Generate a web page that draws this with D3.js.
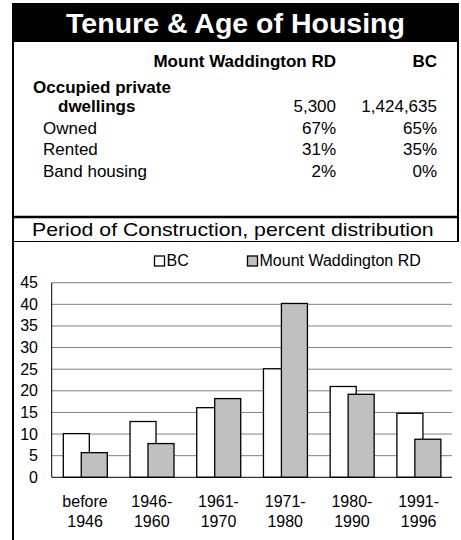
<!DOCTYPE html>
<html>
<head>
<meta charset="utf-8">
<script src="https://cdn.jsdelivr.net/npm/d3@7"></script>
<style>
  body { margin: 0; background: #fff; }
  svg { display: block; font-family: "Liberation Sans", Arial, sans-serif; }
</style>
</head>
<body>
<svg id="chart" width="461" height="540"></svg>
<script>
// data
const title = "Tenure & Age of Housing";
const areaNames = ["Mount Waddington RD", "BC"];
const tenureLabels = [["Occupied private", "dwellings"], ["Owned"], ["Rented"], ["Band housing"]];
const mwTenure = ["5,300", "67%", "31%", "2%"];
const bcTenure = ["1,424,635", "65%", "35%", "0%"];

const chartTitle = "Period of Construction, percent distribution";
const periods = [["before", "1946"], ["1946-", "1960"], ["1961-", "1970"], ["1971-", "1980"], ["1980-", "1990"], ["1991-", "1996"]];
const seriesNames = ["BC", "Mount Waddington RD"];
const bcValues = [10.1, 12.9, 16.1, 25.1, 21.0, 14.8];
const mwValues = [5.7, 7.8, 18.2, 40.2, 19.2, 8.8];
const yTicks = [0, 5, 10, 15, 20, 25, 30, 35, 40, 45];

const svg = d3.select("#chart");

// frame
svg.append("rect")
  .attr("x", 12).attr("y", 3)
  .attr("width", 447).attr("height", 39)
  .attr("fill", "#000");

const frame = svg.append("g").attr("stroke", "#000").attr("fill", "none");
frame.append("line").attr("x1", 13).attr("x2", 13).attr("y1", 42).attr("y2", 540).attr("stroke-width", 2);
frame.append("line").attr("x1", 458).attr("x2", 458).attr("y1", 42).attr("y2", 241).attr("stroke-width", 2);
frame.append("line").attr("x1", 12).attr("x2", 459).attr("y1", 217).attr("y2", 217).attr("stroke-width", 2.5);
frame.append("line").attr("x1", 12).attr("x2", 459).attr("y1", 241.5).attr("y2", 241.5).attr("stroke-width", 1);

svg.append("text")
  .attr("x", 235.5).attr("y", 33)
  .attr("text-anchor", "middle")
  .attr("font-size", 28.5).attr("font-weight", "bold")
  .attr("fill", "#fff")
  .text(title);

// tenure table
const table = svg.append("g").attr("font-size", 17).attr("fill", "#000");
const colX = [336, 437];

table.selectAll(".head")
  .data(areaNames)
  .join("text")
  .attr("class", "head")
  .attr("x", (d, i) => colX[i]).attr("y", 67)
  .attr("text-anchor", "end")
  .attr("font-weight", "bold")
  .text(d => d);

const rowY = [112, 134, 155, 177];
tenureLabels.forEach((lab, i) => {
  if (lab.length > 1) {
    table.append("text").attr("x", 33).attr("y", 93).attr("font-weight", "bold").text(lab[0]);
    table.append("text").attr("x", 58).attr("y", rowY[i]).attr("font-weight", "bold").text(lab[1]);
  } else {
    table.append("text").attr("x", 43).attr("y", rowY[i]).text(lab[0]);
  }
  table.append("text").attr("x", colX[0]).attr("y", rowY[i]).attr("text-anchor", "end").text(mwTenure[i]);
  table.append("text").attr("x", colX[1]).attr("y", rowY[i]).attr("text-anchor", "end").text(bcTenure[i]);
});

// chart title: the original is drawn with horizontally stretched glyphs
const ct = svg.append("text")
  .attr("font-size", 18)
  .text(chartTitle);
const ctw = ct.node().getComputedTextLength();
ct.attr("transform", `translate(32,236) scale(${402 / ctw},1)`);

// bar chart
const margin = { left: 51.7, right: 452, top: 282.7, bottom: 477.3 };

const x = d3.scaleBand()
  .domain(d3.range(periods.length))
  .range([margin.left, margin.right]);

const y = d3.scaleLinear()
  .domain([0, 45])
  .range([margin.bottom, margin.top]);

// grid
svg.append("g")
  .selectAll("line")
  .data(yTicks.filter(d => d > 0))
  .join("line")
  .attr("x1", margin.left).attr("x2", margin.right)
  .attr("y1", d => y(d)).attr("y2", d => y(d))
  .attr("stroke", "#808080").attr("stroke-width", 1);

// y labels
svg.append("g")
  .attr("font-size", 16)
  .selectAll("text")
  .data(yTicks)
  .join("text")
  .attr("x", 38).attr("y", d => y(d) + 5.5)
  .attr("text-anchor", "end")
  .text(d => d);

const bw = x.bandwidth();
const barW = bw * 0.39;
const off = bw * 0.174;
const shift = barW * 0.69;

const groups = svg.append("g")
  .selectAll("g")
  .data(periods.map((p, i) => ({ i, bc: bcValues[i], mw: mwValues[i] })))
  .join("g");

groups.append("rect")
  .attr("x", d => x(d.i) + off)
  .attr("y", d => y(d.bc))
  .attr("width", barW)
  .attr("height", d => y(0) - y(d.bc))
  .attr("fill", "#fff").attr("stroke", "#000").attr("stroke-width", 1.3);

groups.append("rect")
  .attr("x", d => x(d.i) + off + shift)
  .attr("y", d => y(d.mw))
  .attr("width", barW)
  .attr("height", d => y(0) - y(d.mw))
  .attr("fill", "#c0c0c0").attr("stroke", "#000").attr("stroke-width", 1.3);

// axes lines
svg.append("line")
  .attr("x1", margin.left).attr("x2", margin.left)
  .attr("y1", margin.top).attr("y2", margin.bottom)
  .attr("stroke", "#000");
svg.append("line")
  .attr("x1", margin.left).attr("x2", margin.right)
  .attr("y1", margin.bottom).attr("y2", margin.bottom)
  .attr("stroke", "#000");

// x labels
const xl = svg.append("g").attr("font-size", 16).attr("text-anchor", "middle");
periods.forEach((p, i) => {
  const t = xl.append("text").attr("x", x(i) + bw / 2);
  t.append("tspan").attr("x", x(i) + bw / 2).attr("y", 507).text(p[0]);
  t.append("tspan").attr("x", x(i) + bw / 2).attr("y", 526.5).text(p[1]);
});

// legend
const legendX = [154.5, 247.5];
const legendFill = ["#fff", "#c0c0c0"];
const legend = svg.append("g").attr("font-size", 16);
seriesNames.forEach((name, i) => {
  legend.append("rect")
    .attr("x", legendX[i]).attr("y", 256)
    .attr("width", 10).attr("height", 10)
    .attr("fill", legendFill[i]).attr("stroke", "#000").attr("stroke-width", 1.3);
  legend.append("text")
    .attr("x", legendX[i] + 12).attr("y", 266)
    .text(name);
});
</script>
</body>
</html>
